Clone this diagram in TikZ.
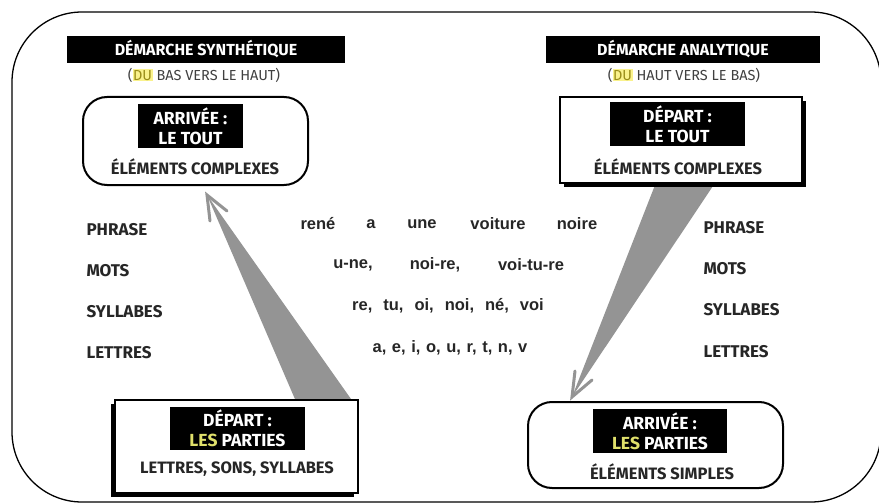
\documentclass[tikz,border=0pt]{standalone}
\usepackage{fontspec}
\setmainfont{Fira Sans}
\newfontfamily\helv{Liberation Sans}
\usetikzlibrary{shadows,backgrounds,calc}
\definecolor{lesyel}{rgb}{0.88,0.88,0.42}
\definecolor{hlyel}{rgb}{0.98,0.95,0.55}
\definecolor{duolive}{rgb}{0.6,0.55,0.1}
\newcommand\hlt[1]{{\setlength\fboxsep{0.6pt}\colorbox{hlyel}{\textcolor{duolive}{#1}}}}
\begin{document}
\begin{tikzpicture}[x=1pt,y=-1pt,
  titlebar/.style={fill=black, text=white, font=\bfseries\fontsize{16}{18}\selectfont, minimum height=27pt, inner sep=0pt},
  subt/.style={font=\fontsize{14.5}{16}\selectfont, text=black!75},
  blk/.style={fill=black, text=white, align=center, font=\bfseries\fontsize{17.5}{20}\selectfont, minimum height=44pt, inner sep=0pt},
  rbox/.style={draw, line width=2pt, rounded corners=24pt, fill=white, inner sep=0pt},
  sbox/.style={draw, line width=1.2pt, fill=white, inner sep=0pt},
  boxtxt/.style={font=\bfseries\fontsize{16.5}{18}\selectfont, text=black!85},
  lbl/.style={font=\bfseries\fontsize{17}{19}\selectfont, text=black!85, anchor=west},
  wrd/.style={font=\helv\bfseries\fontsize{16.5}{19}\selectfont, text=black!85},
  wedge/.style={fill=black!42},
  barb/.style={draw=black!42, line width=3pt, line cap=round}]
\useasboundingbox (0,0) rectangle (879,503);
% outer frame
\draw[line width=1.3pt, rounded corners=70pt] (12,12) rectangle (881,502);

% titles
\node[titlebar, minimum width=278pt] (titleL) at (206,49.5) {DÉMARCHE SYNTHÉTIQUE};
\node[titlebar, minimum width=274pt] (titleR) at (683,49.5) {DÉMARCHE ANALYTIQUE};
\node[subt] (subL) at (204,75) {(\hlt{DU} BAS VERS LE HAUT)};
\node[subt] (subR) at (684,75) {(\hlt{DU} HAUT VERS LE BAS)};

% top-left rounded box
\node[rbox, minimum width=225pt, minimum height=88pt] (boxTL) at (195.5,141) {};
\node[blk, minimum width=105pt] (blkTL) at (190.5,126) {ARRIVÉE :\\LE TOUT};
\node[boxtxt] (txtTL) at (195,167) {ÉLÉMENTS COMPLEXES};

% top-right shadow box
\node[sbox, minimum width=242pt, minimum height=86pt,
  drop shadow={shadow xshift=4pt, shadow yshift=-4pt, fill=black, opacity=1}] (boxTR) at (681,140) {};
\node[blk, minimum width=135pt] (blkTR) at (677.5,124) {DÉPART :\\LE TOUT};
\node[boxtxt] (txtTR) at (678,167) {ÉLÉMENTS COMPLEXES};

% bottom-left shadow box
\node[sbox, minimum width=243pt, minimum height=93pt,
  drop shadow={shadow xshift=-4pt, shadow yshift=-4pt, fill=black, opacity=1}] (boxBL) at (236.5,446.5) {};
\node[blk, minimum width=135pt, minimum height=43pt] (blkBL) at (237.5,428.5) {DÉPART :\\\textcolor{lesyel}{LES} PARTIES};
\node[boxtxt] (txtBL) at (237,469) {LETTRES, SONS, SYLLABES};

% bottom-right rounded box
\node[rbox, minimum width=255pt, minimum height=86pt] (boxBR) at (655.5,445) {};
\node[blk, minimum width=134pt] (blkBR) at (660,431) {ARRIVÉE :\\\textcolor{lesyel}{LES} PARTIES};
\node[boxtxt] (txtBR) at (662,472) {ÉLÉMENTS SIMPLES};

% left labels
\node[lbl] (phL) at (83,230) {PHRASE};
\node[lbl] (moL) at (83,271) {MOTS};
\node[lbl] (syL) at (83,312) {SYLLABES};
\node[lbl] (leL) at (83,353) {LETTRES};
% right labels
\node[lbl] (phR) at (700,228) {PHRASE};
\node[lbl] (moR) at (700,269) {MOTS};
\node[lbl] (syR) at (700,310) {SYLLABES};
\node[lbl] (leR) at (700,352) {LETTRES};

% center words
\node[wrd] (w1) at (318,224) {rené};
\node[wrd] (w2) at (371,224) {a};
\node[wrd] (w3) at (422,224) {une};
\node[wrd] (w4) at (498,224) {voiture};
\node[wrd] (w5) at (577,224) {noire};
\node[wrd] (s1) at (353,265) {u-ne,};
\node[wrd] (s2) at (435,265) {noi-re,};
\node[wrd] (s3) at (531,265) {voi-tu-re};
\node[wrd] (r3) at (448,306) {re,\hspace{11pt}tu,\hspace{11pt}oi,\hspace{11pt}noi,\hspace{11pt}né,\hspace{11pt}voi};
\node[wrd] (r4) at (450,348) {a,\hspace{1pt} e,\hspace{1pt} i,\hspace{1pt} o,\hspace{1pt} u,\hspace{1pt} r,\hspace{1pt} t,\hspace{1pt} n,\hspace{1pt} v};

% wedge arrows (behind boxes)
\begin{scope}[on background layer]
  \coordinate (tipL) at (207,195);
  \coordinate (baseLa) at ($(boxBL.north west)!0.74!(boxBL.north east)$);
  \coordinate (baseLb) at ($(boxBL.north west)!0.97!(boxBL.north east)$);
  \fill[wedge] (tipL) -- (baseLb) -- ([yshift=-4pt]baseLb) -- ([yshift=-4pt]baseLa) -- (baseLa) -- cycle;
  \draw[barb] (210,221) -- (tipL) -- (227,211);
  \coordinate (tipR) at (572,397);
  \coordinate (baseRa) at (657,180);
  \coordinate (baseRb) at (717,180);
  \fill[wedge] (tipR) -- (baseRa) -- (baseRb) -- cycle;
  \draw[barb] (575,371) -- (tipR) -- (592,380);
\end{scope}
\end{tikzpicture}
\end{document}
